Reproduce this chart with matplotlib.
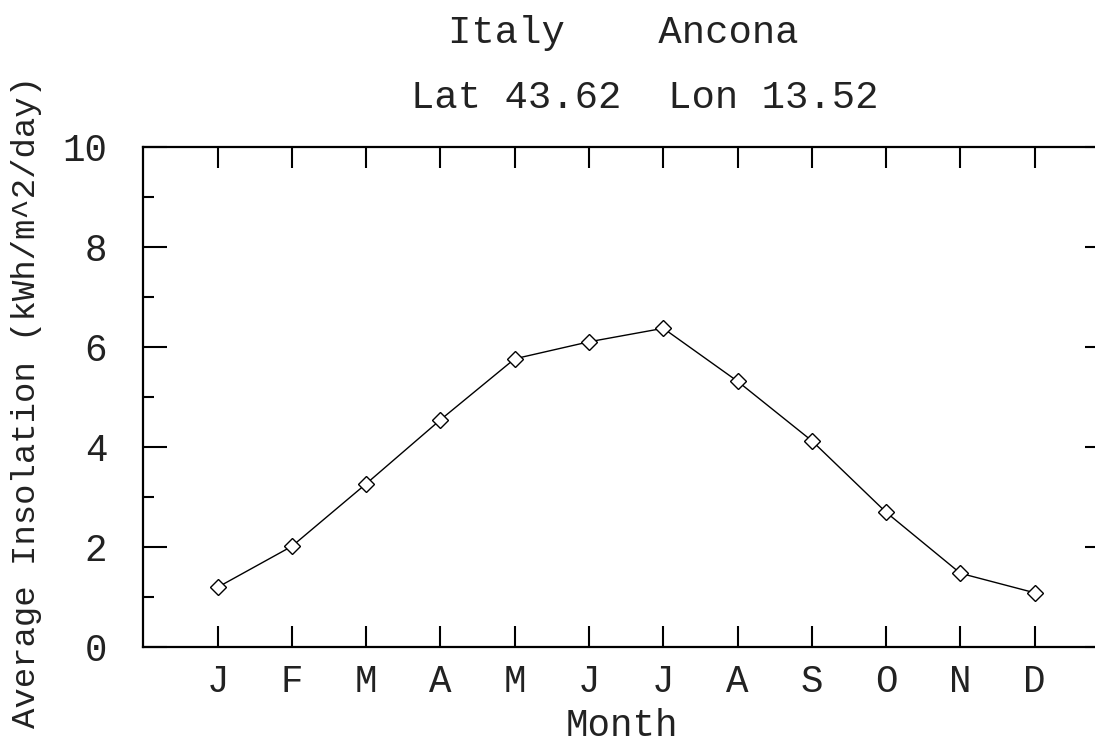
import matplotlib
matplotlib.use("Agg")
import matplotlib.pyplot as plt
from matplotlib.ticker import MultipleLocator

months = ["J", "F", "M", "A", "M", "J", "J", "A", "S", "O", "N", "D"]
insolation = [1.20, 2.02, 3.27, 4.55, 5.77, 6.11, 6.38, 5.32, 4.13, 2.70, 1.48, 1.09]
title_line1 = "Italy    Ancona"
title_line2 = "Lat 43.62  Lon 13.52"

FONT = "Liberation Mono"
TXT = "#222222"
W, H = 1095, 742
fig = plt.figure(figsize=(W / 100, H / 100), dpi=100)
ax = fig.add_axes([143.3 / W, 1 - 647.3 / H, (1109 - 143.3) / W, (647.3 - 147.3) / H])

x = list(range(1, len(months) + 1))
ax.plot(x, insolation, color="black", lw=1.0, marker="D", ms=8,
        mfc="white", mec="black", mew=1.0)

ax.set_xlim(0, 13)
ax.set_ylim(0, 10)
ax.set_xticks(x)
ax.set_xticklabels(months, fontfamily=FONT, fontsize=27, color=TXT)
ax.yaxis.set_major_locator(MultipleLocator(2))
ax.yaxis.set_minor_locator(MultipleLocator(1))
for lbl in ax.get_yticklabels():
    lbl.set_fontfamily(FONT)
    lbl.set_fontsize(27)
    lbl.set_color(TXT)
ax.tick_params(axis="x", which="major", direction="in", length=15, width=1.5,
               top=True, bottom=True, pad=12)
ax.tick_params(axis="y", which="major", direction="in", length=17, width=1.5,
               left=True, right=True, pad=26)
ax.tick_params(axis="y", which="minor", direction="in", length=8, width=1.5,
               left=True, right=True)
for s in ax.spines.values():
    s.set_linewidth(1.6)

fig.text(623 / W, 1 - 33 / H, title_line1, fontfamily=FONT, fontsize=28,
         ha="center", va="center", color=TXT)
fig.text(645 / W, 1 - 98 / H, title_line2, fontfamily=FONT, fontsize=28,
         ha="center", va="center", color=TXT)
fig.text(622 / W, 1 - 726 / H, "Month", fontfamily=FONT, fontsize=27,
         ha="center", va="center", color=TXT)
fig.text(27 / W, 1 - 402 / H, "Average Insolation (kWh/m^2/day)", fontfamily=FONT,
         fontsize=24.5, ha="center", va="center", rotation=90, color=TXT)

fig.savefig("out.png", dpi=100)
